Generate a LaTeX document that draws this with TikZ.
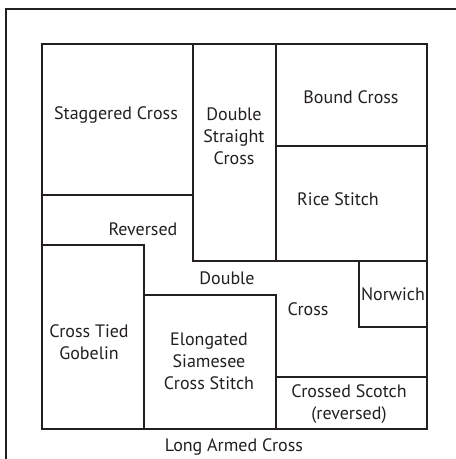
\documentclass[tikz,border=0pt]{standalone}
\usepackage{fontspec}
\setmainfont{PT Sans}
\definecolor{ink}{HTML}{231F20}
\tikzset{
  box/.style={draw=ink, line width=1.5pt},
  lbl/.style={text=ink, align=center, inner sep=0pt, font=\fontsize{18}{22}\selectfont}
}
\begin{document}
\begin{tikzpicture}[x=1pt,y=-1pt]
  \useasboundingbox (0,0) rectangle (456,459);
  % outer frame, runs off the page
  \draw [box] (6,459) -- (6,9) -- (456,9);
  % the square and its parts
  \draw [box] (42,44) rectangle (427,429);
  \draw [box] (42,195) -- (193,195);
  \draw [box] (193,44) -- (193,261) -- (427,261);
  \draw [box] (276,44) -- (276,261);
  \draw [box] (276,146) -- (427,146);
  \draw [box] (42,245) -- (144,245) -- (144,429);
  \draw [box] (144,295) -- (276,295) -- (276,429);
  \draw [box] (359,261) -- (359,327) -- (427,327);
  \draw [box] (276,377) -- (427,377);
  % labels
  \node [lbl] (staggered) at (116,115) {Staggered Cross};
  \node [lbl] (dblstraight) at (234,136) {Double\\Straight\\Cross};
  \node [lbl] (bound) at (351,97) {Bound Cross};
  \node [lbl] (rice) at (338,199) {Rice Stitch};
  \node [lbl] (reversed) at (143,229) {Reversed};
  \node [lbl] (double) at (227,278) {Double};
  \node [lbl] (cross) at (308,309) {Cross};
  \node [lbl] (norwich) at (393,294) {Norwich};
  \node [lbl] (tied) at (89,342) {Cross Tied\\Gobelin};
  \node [lbl] (siamese) at (209,361) {Elongated\\Siamesee\\Cross Stitch};
  \node [lbl] (scotch) at (349,404) {Crossed Scotch\\(reversed)};
  \node [lbl] (longarmed) at (234,447) {Long Armed Cross};
\end{tikzpicture}
\end{document}
